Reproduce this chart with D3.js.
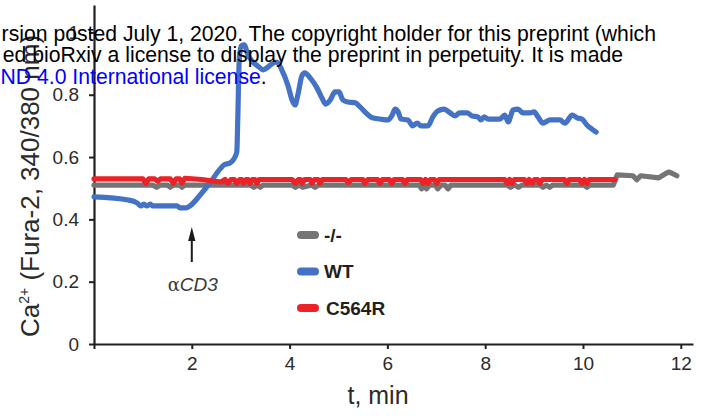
<!DOCTYPE html>
<html>
<head>
<meta charset="utf-8">
<script src="https://cdn.jsdelivr.net/npm/d3@7"></script>
<style>
  body { margin: 0; background: #fff; }
  svg { display: block; }
  text { font-family: "Liberation Sans", Arial, Helvetica, sans-serif; }
</style>
</head>
<body>
<svg id="chart" width="714" height="416"></svg>
<script>
// Ca2+ traces (Fura-2 340/380 ratio) against time in minutes, one [t, ratio] list per genotype
const seriesNames = ["-/-", "WT", "C564R"];
const seriesColors = ["#757575", "#4472C4", "#EC2227"];

const koPoints = [
  [0, 0.51], [1.2, 0.51], [1.28, 0.503], [1.36, 0.51], [1.5, 0.51], [1.56, 0.503], [1.62, 0.51],
  [1.75, 0.51], [1.8, 0.503], [1.86, 0.51], [3.2, 0.51], [3.27, 0.503], [3.34, 0.51], [3.4, 0.503],
  [3.46, 0.51], [4.05, 0.51], [4.12, 0.503], [4.2, 0.51], [4.27, 0.503], [4.45, 0.51], [4.52, 0.503],
  [4.6, 0.51], [6.65, 0.51], [6.7, 0.498], [6.76, 0.51], [6.8, 0.498], [6.86, 0.51], [6.98, 0.51],
  [7.03, 0.498], [7.1, 0.51], [7.18, 0.51], [7.24, 0.498], [7.3, 0.51], [8.45, 0.51], [8.52, 0.503],
  [8.6, 0.51], [8.68, 0.503], [8.75, 0.51], [9.12, 0.51], [9.18, 0.503], [9.25, 0.51], [9.32, 0.503],
  [9.38, 0.51], [10.02, 0.51], [10.08, 0.503], [10.14, 0.51], [10.62, 0.51], [10.7, 0.543],
  [11.02, 0.54], [11.1, 0.527], [11.18, 0.54], [11.55, 0.533], [11.65, 0.543], [11.75, 0.552],
  [11.82, 0.548], [11.92, 0.54]
];

const wtPoints = [
  [0, 0.472], [0.7, 0.462], [0.88, 0.453], [0.96, 0.443], [1.02, 0.449], [1.08, 0.443], [1.15, 0.449],
  [1.21, 0.443], [1.7, 0.443], [1.76, 0.437], [1.88, 0.437], [1.96, 0.443], [2.17, 0.478], [2.37, 0.517],
  [2.58, 0.562], [2.66, 0.575], [2.78, 0.581], [2.86, 0.594], [2.92, 0.616], [2.94, 0.719], [2.97, 0.912],
  [3.01, 0.957], [3.07, 0.96], [3.15, 0.928], [3.25, 0.905], [3.35, 0.892], [3.46, 0.88], [3.56, 0.889],
  [3.64, 0.899], [3.74, 0.905], [3.84, 0.88], [3.97, 0.828], [4.05, 0.783], [4.11, 0.767], [4.17, 0.8],
  [4.25, 0.86], [4.31, 0.87], [4.42, 0.854], [4.56, 0.822], [4.66, 0.79], [4.74, 0.77], [4.83, 0.783],
  [4.93, 0.809], [5.01, 0.809], [5.09, 0.783], [5.19, 0.777], [5.34, 0.774], [5.44, 0.761], [5.56, 0.742],
  [5.69, 0.726], [5.85, 0.722], [6.01, 0.719], [6.09, 0.732], [6.16, 0.754], [6.22, 0.745], [6.28, 0.722],
  [6.42, 0.719], [6.52, 0.7], [6.61, 0.709], [6.69, 0.7], [6.83, 0.7], [6.93, 0.729], [7.03, 0.748],
  [7.16, 0.754], [7.28, 0.742], [7.38, 0.732], [7.48, 0.742], [7.63, 0.742], [7.73, 0.732], [7.85, 0.729],
  [7.91, 0.719], [7.98, 0.729], [8.06, 0.722], [8.3, 0.722], [8.4, 0.735], [8.47, 0.713], [8.57, 0.751],
  [8.67, 0.754], [8.77, 0.742], [8.92, 0.742], [9.0, 0.745], [9.08, 0.729], [9.18, 0.709], [9.33, 0.719],
  [9.53, 0.719], [9.63, 0.709], [9.78, 0.735], [9.88, 0.726], [9.98, 0.722], [10.08, 0.703], [10.18, 0.69],
  [10.27, 0.68]
];

const mutPoints = [
  [0, 0.53], [1.0, 0.53], [1.06, 0.516], [1.12, 0.53], [1.24, 0.53], [1.3, 0.522], [1.36, 0.53],
  [1.56, 0.53], [1.62, 0.516], [1.68, 0.53], [1.75, 0.53], [1.8, 0.517], [1.86, 0.532], [2.2, 0.528],
  [2.6, 0.52], [2.68, 0.528], [2.74, 0.516], [2.8, 0.528], [2.87, 0.528], [2.92, 0.516], [2.98, 0.528],
  [3.02, 0.528], [3.06, 0.516], [3.11, 0.528], [3.15, 0.528], [3.19, 0.516], [3.24, 0.528], [3.29, 0.528],
  [3.33, 0.516], [3.38, 0.528], [4.05, 0.528], [4.12, 0.516], [4.18, 0.528], [4.22, 0.528], [4.26, 0.516],
  [4.31, 0.528], [4.42, 0.528], [4.46, 0.516], [4.51, 0.528], [4.58, 0.528], [4.62, 0.516], [4.67, 0.528],
  [5.15, 0.528], [5.2, 0.518], [5.26, 0.528], [5.5, 0.528], [5.54, 0.516], [5.6, 0.528], [5.8, 0.528],
  [5.85, 0.516], [5.9, 0.528], [6.04, 0.528], [6.09, 0.516], [6.14, 0.528], [6.31, 0.528], [6.36, 0.516],
  [6.41, 0.528], [6.68, 0.528], [6.73, 0.516], [6.78, 0.528], [6.83, 0.516], [6.88, 0.528], [6.96, 0.528],
  [7.01, 0.516], [7.06, 0.528], [8.4, 0.528], [8.45, 0.516], [8.5, 0.528], [8.55, 0.516], [8.6, 0.528],
  [8.8, 0.528], [8.85, 0.516], [8.9, 0.528], [8.96, 0.516], [9.01, 0.528], [9.07, 0.528], [9.12, 0.516],
  [9.17, 0.528], [9.62, 0.528], [9.67, 0.516], [9.72, 0.528], [9.93, 0.528], [9.98, 0.516], [10.03, 0.528],
  [10.08, 0.516], [10.13, 0.528], [10.65, 0.528]
];

const xTickValues = [0, 2, 4, 6, 8, 10, 12];
const yTickValues = [0, 0.2, 0.4, 0.6, 0.8, 1];
const xDomain = [0, 12.25];
const yDomain = [0, 1.088];
const stimulusTime = 2;

const svg = d3.select("#chart");
const axisColor = "#231f20";
const labelColor = "#2b2b2b";

const x = d3.scaleLinear().domain(xDomain).range([94, 693]);
const y = d3.scaleLinear().domain(yDomain).range([344, 5]);

// axes
const gx = svg.append("g").attr("transform", `translate(0,${y(0)})`)
  .call(d3.axisBottom(x).tickValues(xTickValues).tickSize(5).tickSizeOuter(0).tickPadding(8)
    .tickFormat(d => d === 0 ? "" : String(d)));
const gy = svg.append("g").attr("transform", `translate(${x(0)},0)`)
  .call(d3.axisLeft(y).tickValues(yTickValues).tickSize(5).tickSizeOuter(0).tickPadding(10)
    .tickFormat(d => String(d)));
[gx, gy].forEach(g => {
  g.select(".domain").attr("stroke", axisColor).attr("stroke-width", 2.2);
  g.selectAll(".tick line").attr("stroke", axisColor).attr("stroke-width", 2);
  g.selectAll(".tick text").attr("fill", labelColor).style("font-size", "19px")
    .style("font-family", "'Liberation Sans', Arial, sans-serif");
});

// traces: -/- first, WT, then C564R on top
const line = d3.line().x(d => x(d[0])).y(d => y(d[1]));
const traces = [
  { pts: koPoints, color: seriesColors[0], curve: d3.curveLinear },
  { pts: wtPoints, color: seriesColors[1], curve: d3.curveMonotoneX },
  { pts: mutPoints, color: seriesColors[2], curve: d3.curveLinear }
];
traces.forEach(t => {
  svg.append("path").datum(t.pts)
    .attr("d", line.curve(t.curve))
    .attr("fill", "none").attr("stroke", t.color)
    .attr("stroke-width", 5.2).attr("stroke-linejoin", "round").attr("stroke-linecap", "round");
});

// stimulation arrow
const ax = x(stimulusTime);
svg.append("line").attr("x1", ax).attr("x2", ax).attr("y1", 262).attr("y2", 238)
  .attr("stroke", "#1a1a1a").attr("stroke-width", 2);
svg.append("path").attr("d", `M${ax},227 L${ax - 3.6},241 L${ax + 3.6},241 Z`).attr("fill", "#1a1a1a");
const stim = svg.append("text").attr("x", ax + 1).attr("y", 291).attr("text-anchor", "middle")
  .attr("fill", "#3a3a3a").style("font-size", "19px");
stim.append("tspan").style("font-family", "'DejaVu Serif', 'Liberation Serif', serif").style("font-size", "18px").text("α");
stim.append("tspan").style("font-style", "italic").text("CD3");

// legend
const legendY = [235, 271.5, 308];
seriesNames.forEach((name, i) => {
  svg.append("line").attr("x1", 301).attr("x2", 315).attr("y1", legendY[i]).attr("y2", legendY[i])
    .attr("stroke", seriesColors[i]).attr("stroke-width", 8).attr("stroke-linecap", "round");
  svg.append("text").attr("x", i === 2 ? 326 : 324).attr("y", legendY[i] + 6.5)
    .attr("fill", axisColor).style("font-size", "19px").style("font-weight", "bold").text(name);
});

// axis titles
svg.append("text").attr("x", 378).attr("y", 404).attr("text-anchor", "middle")
  .attr("fill", labelColor).style("font-size", "25px").text("t, min");
const yt = svg.append("text").attr("transform", "translate(39,186) rotate(-90)")
  .attr("text-anchor", "middle").attr("fill", labelColor).style("font-size", "26px");
yt.append("tspan").text("Ca");
yt.append("tspan").attr("dy", -10).style("font-size", "14px").text("2+");
yt.append("tspan").attr("dy", 10).text(" (Fura-2, 340/380 nm)");

// preprint notice across the top
const notice = svg.append("g").style("font-size", "21.2px");
notice.append("text").attr("x", 656).attr("y", 40.5).attr("text-anchor", "end").attr("fill", "#000")
  .text("rsion posted July 1, 2020. The copyright holder for this preprint (which");
notice.append("text").attr("x", 623).attr("y", 62).attr("text-anchor", "end").attr("fill", "#000")
  .text("ed bioRxiv a license to display the preprint in perpetuity. It is made");
const l3 = notice.append("text").attr("x", 0.5).attr("y", 83.5).attr("text-anchor", "start");
l3.append("tspan").attr("fill", "#0000ff").text("ND 4.0 International license");
l3.append("tspan").attr("fill", "#000").text(".");
</script>
</body>
</html>
